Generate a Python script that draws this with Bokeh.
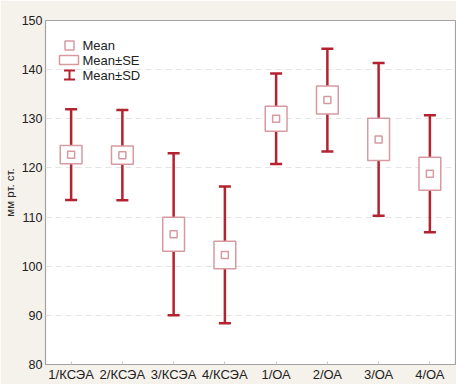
from bokeh.plotting import figure
from bokeh.models import (Range1d, FactorRange, FixedTicker, Label, BoxAnnotation,
                          Whisker, TeeHead)
from bokeh.embed import file_html
from bokeh.resources import INLINE

# ---- data ----
groups = ["1/КСЭА", "2/КСЭА", "3/КСЭА", "4/КСЭА", "1/ОА", "2/ОА", "3/ОА", "4/ОА"]
mean = [122.7, 122.6, 106.5, 102.3, 130.0, 133.8, 125.8, 118.8]
se = [1.85, 1.85, 3.45, 2.8, 2.55, 2.85, 4.3, 3.35]
sd = [9.25, 9.2, 16.5, 13.9, 9.2, 10.45, 15.55, 11.9]
y_ticks = [80, 90, 100, 110, 120, 130, 140, 150]
legend_labels = ["Mean", "Mean±SE", "Mean±SD"]
y_label = "мм рт. ст."

FONT = "Liberation Sans"
DARK = "#b3222f"
PINK = "#d79aa1"
GRAY = "#a3a3a3"
CREAM = "#f5f1eb"

se_lo = [m - s for m, s in zip(mean, se)]
se_hi = [m + s for m, s in zip(mean, se)]
sd_lo = [m - s for m, s in zip(mean, sd)]
sd_hi = [m + s for m, s in zip(mean, sd)]

FH = 348  # frame height in px (for legend placement)
p = figure(width=456, height=384, x_range=FactorRange(*groups),
           y_range=Range1d(80, 150), output_backend="svg", toolbar_location=None,
           min_border_left=41, min_border_right=1, min_border_top=20,
           min_border_bottom=16)

p.border_fill_color = CREAM
p.background_fill_color = "white"
p.outline_line_color = GRAY
p.outline_line_width = 1.2

p.xgrid.grid_line_color = None
p.ygrid.grid_line_color = "#e4e4e4"
p.ygrid.grid_line_dash = "6 4"
p.ygrid.ticker = FixedTicker(ticks=y_ticks)

p.yaxis.ticker = FixedTicker(ticks=y_ticks)
for ax in p.axis:
    ax.axis_line_color = None
    ax.major_tick_line_color = "#c8c8c8"
    ax.major_tick_in = 3
    ax.major_tick_out = 0
    ax.minor_tick_line_color = None
    ax.major_label_text_font = FONT
    ax.major_label_text_font_size = "12.5px"
    ax.major_label_text_color = "#222222"
p.xaxis.major_label_text_font_size = "13px"
p.yaxis.major_tick_line_color = None
p.yaxis.major_label_standoff = 3
p.xaxis.major_label_standoff = 2
p.yaxis.axis_label = y_label
p.yaxis.axis_label_text_font = FONT
p.yaxis.axis_label_text_font_size = "11.5px"
p.yaxis.axis_label_text_font_style = "normal"
p.yaxis.axis_label_standoff = 3
p.yaxis.axis_label_text_color = "#222222"

# SD whiskers
p.segment(x0=groups, y0=sd_lo, x1=groups, y1=sd_hi, line_color=DARK, line_width=2.5)
p.scatter(x=groups, y=sd_hi, marker="dash", size=12, line_color=DARK, line_width=2.5)
p.scatter(x=groups, y=sd_lo, marker="dash", size=12, line_color=DARK, line_width=2.5)
# SE boxes
p.vbar(x=groups, width=0.425, bottom=se_lo, top=se_hi, fill_color="white",
       line_color=PINK, line_width=1.5)
# means
p.scatter(x=groups, y=mean, marker="square", size=7, fill_color="white",
          line_color=PINK, line_width=1.5)

# ---- legend, placed in frame screen units ----
lx = 24
rows = [FH - 29, FH - 43.5, FH - 58.5]
tx = 37
p.add_layout(BoxAnnotation(left=lx - 4.5, right=lx + 4.5, bottom=rows[0] - 4.5,
                           top=rows[0] + 4.5, left_units="screen", right_units="screen",
                           bottom_units="screen", top_units="screen",
                           fill_color="white", fill_alpha=1, line_color=PINK,
                           line_width=1.5, line_alpha=1))
p.add_layout(BoxAnnotation(left=lx - 10, right=lx + 9, bottom=rows[1] - 4.5,
                           top=rows[1] + 4.5, left_units="screen", right_units="screen",
                           bottom_units="screen", top_units="screen",
                           fill_color="white", fill_alpha=1, line_color=PINK,
                           line_width=1.5, line_alpha=1))
p.add_layout(Whisker(base=lx, lower=rows[2] - 4.5, upper=rows[2] + 4.5, dimension="height",
                     base_units="screen", lower_units="screen", upper_units="screen",
                     line_color=DARK, line_width=2,
                     lower_head=TeeHead(size=11, line_color=DARK, line_width=2),
                     upper_head=TeeHead(size=11, line_color=DARK, line_width=2)))
for r, lab in zip(rows, legend_labels):
    p.add_layout(Label(x=tx, y=r, text=lab, x_units="screen", y_units="screen",
                       text_font=FONT, text_font_size="13px", text_baseline="middle",
                       text_color="#222222"))

open("out.html", "w").write(file_html(p, INLINE))
